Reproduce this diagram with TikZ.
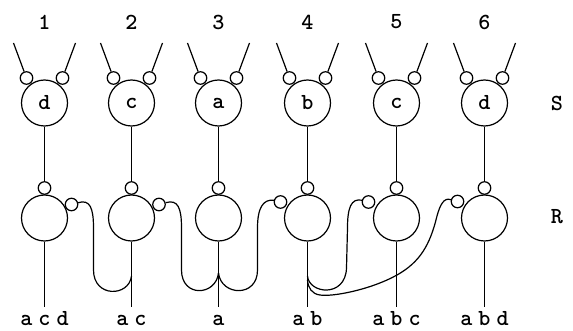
\documentclass[tikz,border=0pt]{standalone}
\usepackage{fontspec}
\newcommand\lab{\ttfamily\bfseries\fontsize{23}{27}\selectfont}
\newcommand\gp{\hspace{6pt}}
\tikzset{
  big/.style={circle,draw,line width=1.2pt,minimum size=46pt,inner sep=0pt,font=\lab},
  small/.style={circle,draw,line width=1.2pt,minimum size=12.5pt,inner sep=0pt},
  wire/.style={line width=1.2pt},
  txt/.style={font=\lab,inner sep=0pt}
}
\begin{document}
\begin{tikzpicture}[x=1pt,y=-1pt]
\path[use as bounding box] (0,0) rectangle (573,331);
\foreach \i/\x/\s/\o in {1/44.5/d/{a\gp c\gp d},2/131.5/c/{a\gp c},3/218.5/a/{a},4/307.5/b/{a\gp b},5/396.5/c/{a\gp b\gp c},6/484.5/d/{a\gp b\gp d}}{
  \node[txt] (n\i) at (\x,22) {\i};
  \node[big] (S\i) at (\x,103) {\s};
  \node[small] (sl\i) at (\x-18,78) {};
  \node[small] (sr\i) at (\x+18,78) {};
  \coordinate (tl\i) at (\x-31,43);
  \coordinate (tr\i) at (\x+31,43);
  \draw[wire] (tl\i) -- (sl\i);
  \draw[wire] (tr\i) -- (sr\i);
  \node[small] (rt\i) at (\x,188) {};
  \node[big] (R\i) at (\x,218) {};
  \draw[wire] (S\i) -- (rt\i);
  \coordinate (o\i) at (\x,307);
  \draw[wire] (R\i) -- (o\i);
  \node[txt,anchor=base,text depth=0pt] (l\i) at (\x,325.5) {\o};
}
\node[txt] (Slab) at (557,103) {S};
\node[txt] (Rlab) at (557,217) {R};
% side circles
\node[small] (side1) at (71.5,204.5) {};
\node[small] (side2) at (159,204.5) {};
\node[small] (side4) at (280.5,202) {};
\node[small] (side5) at (368.5,202) {};
\node[small] (side6) at (457.5,201.5) {};
% junctions
\coordinate (j2) at (131.5,276);
\coordinate (j3) at (218.5,273);
\coordinate (j4) at (307.5,276);
\coordinate (j4b) at (307.5,280);
% curves
\draw[wire] (side1.15) .. controls (90,199) and (93.5,208) .. (93.5,228) -- (93.5,270)
  .. controls (93.5,298) and (129,297) .. (j2);
\draw[wire] (side2.15) .. controls (178,199) and (181.5,208) .. (181.5,228) -- (181.5,270)
  .. controls (181.5,298) and (216,296) .. (j3);
\draw[wire] (side4.165) .. controls (263,199) and (257.5,208) .. (257.5,228) -- (257.5,270)
  .. controls (257.5,298) and (221,296) .. (j3);
\draw[wire] (side5.165) .. controls (351,198) and (347.5,208) .. (347.5,228) -- (346.5,268)
  .. controls (345.5,298) and (309,294) .. (j4);
\draw[wire] (side6.165) .. controls (444,197) and (440,205) .. (437,216)
  .. controls (430,245) and (420,262) .. (397,275)
  .. controls (370,290) and (332,297) .. (320,295)
  .. controls (312,294) and (308,288) .. (j4b);
\end{tikzpicture}
\end{document}
